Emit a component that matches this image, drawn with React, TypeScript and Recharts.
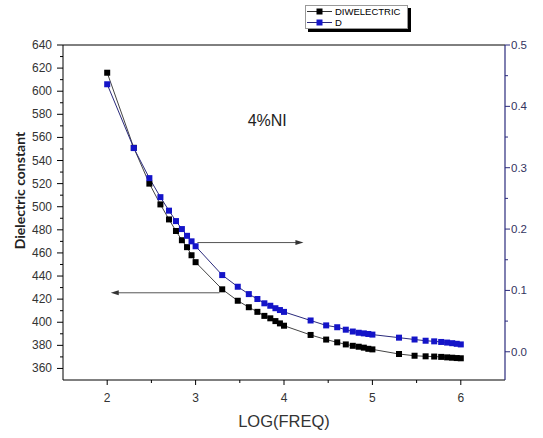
import React from 'react';
import { LineChart, Line, XAxis, YAxis, ReferenceLine, ReferenceDot, Legend, Label } from 'recharts';

const logFreq = [2, 2.301, 2.477, 2.602, 2.699, 2.778, 2.845, 2.903, 2.954, 3, 3.301, 3.477, 3.602, 3.699, 3.778, 3.845, 3.903, 3.954, 4, 4.301, 4.477, 4.602, 4.699, 4.778, 4.845, 4.903, 4.954, 5, 5.301, 5.477, 5.602, 5.699, 5.778, 5.845, 5.903, 5.954, 6];
const dielectric = [616, 551, 520, 502, 489, 479, 471, 465, 458, 452, 428.5, 418.6, 413, 409, 405.5, 403.4, 401, 399, 397, 389, 385, 382.6, 380.8, 379.6, 378.8, 378, 377, 376.5, 372.5, 371, 370.5, 370.3, 370, 369.6, 369.3, 369, 368.8];
const lossD = [0.436, 0.332, 0.283, 0.252, 0.23, 0.213, 0.2, 0.189, 0.18, 0.172, 0.125, 0.106, 0.094, 0.086, 0.079, 0.075, 0.071, 0.068, 0.065, 0.051, 0.043, 0.04, 0.036, 0.033, 0.031, 0.03, 0.029, 0.028, 0.023, 0.02, 0.018, 0.017, 0.016, 0.015, 0.014, 0.013, 0.012];

const xTicks = [2, 2.5, 3, 3.5, 4, 4.5, 5, 5.5, 6];
const leftTicks = [360, 370, 380, 390, 400, 410, 420, 430, 440, 450, 460, 470, 480, 490, 500, 510, 520, 530, 540, 550, 560, 570, 580, 590, 600, 610, 620, 630, 640];
const rightTicks = [0, 0.05, 0.1, 0.15, 0.2, 0.25, 0.3, 0.35, 0.4, 0.45, 0.5];
const seriesNames = ['DIWELECTRIC', 'D'];
const annotationText = '4%NI';
const xTitle = 'LOG(FREQ)';
const yTitle = 'Dielectric constant';
const rightArrow = [{ x: 3.02, y: 0.178 }, { x: 4.22, y: 0.178 }];
const leftArrow = [{ x: 3.27, y: 425.5 }, { x: 2.04, y: 425.5 }];

const data = logFreq.map((f, i) => ({ f, eps: dielectric[i], d: lossD[i] }));

const FONT = '"Liberation Sans", Arial, sans-serif';
const BLACK = '#000000';
const BLUE = '#1414c8';
const NAVY = '#2a2a7c';

const isMajor = (v: number, step: number) => Math.abs(v / step - Math.round(v / step)) < 1e-6;

const XTick = (props: any) => {
  const { x, y, payload } = props;
  const v = payload.value;
  const major = isMajor(v, 1);
  return (
    <g>
      <line x1={x} x2={x} y1={y} y2={y + (major ? 5 : 3)} stroke="#000" strokeWidth={1} />
      {major && (
        <text x={x} y={y + 22} textAnchor="middle" fontSize={12} fontFamily={FONT} fill="#333">
          {v}
        </text>
      )}
    </g>
  );
};

const LeftTick = (props: any) => {
  const { x, y, payload } = props;
  const v = payload.value;
  const major = isMajor(v, 20);
  return (
    <g>
      <line x1={x - (major ? 6 : 3)} x2={x} y1={y} y2={y} stroke="#000" strokeWidth={1} />
      {major && (
        <text x={x - 11} y={y + 4} textAnchor="end" fontSize={12} fontFamily={FONT} fill="#333">
          {v}
        </text>
      )}
    </g>
  );
};

const RightTick = (props: any) => {
  const { x, y, payload } = props;
  const v = payload.value;
  const major = isMajor(v, 0.1);
  return (
    <g>
      <line x1={x} x2={x + (major ? 5 : 3)} y1={y} y2={y} stroke={NAVY} strokeWidth={1} />
      {major && (
        <text x={x + 6} y={y + 4} textAnchor="start" fontSize={11.5} fontFamily={FONT} fill="#33335e">
          {v.toFixed(1)}
        </text>
      )}
    </g>
  );
};

const squareDot = (color: string) => (props: any) => {
  const { cx, cy, index } = props;
  if (cx == null || cy == null) return <g key={index} />;
  return <rect key={index} x={cx - 3} y={cy - 3} width={6} height={6} fill={color} />;
};

const arrowShape = (props: any) => {
  const { x1, y1, x2, y2 } = props;
  const dir = x2 > x1 ? 1 : -1;
  return (
    <g>
      <line x1={x1} y1={y1} x2={x2 - dir * 6} y2={y2} stroke="#555" strokeWidth={1} />
      <polygon points={`${x2},${y2} ${x2 - dir * 8},${y2 - 2.5} ${x2 - dir * 8},${y2 + 2.5}`} fill="#333" />
    </g>
  );
};

const LegendBox = () => (
  <div style={{ position: 'relative', width: 103, height: 24, background: '#fff', border: '1px solid #999', boxShadow: '3px 3px 0 #000', boxSizing: 'border-box' }}>
    <svg width={101} height={26} style={{ position: 'absolute', left: 0, top: 0, overflow: 'visible' }}>
      {[BLACK, BLUE].map((c, i) => (
        <g key={i}>
          <line x1={1} x2={26} y1={5.5 + i * 11} y2={5.5 + i * 11} stroke={i === 0 ? '#333' : NAVY} strokeWidth={1} />
          <rect x={10.5} y={2.5 + i * 11} width={6} height={6} fill={c} />
          <text x={29} y={9 + i * 11} fontSize={9.5} fontFamily={FONT} fill="#000">
            {seriesNames[i]}
          </text>
        </g>
      ))}
    </svg>
  </div>
);

export default function App() {
  return (
    <div style={{ position: 'absolute', left: 0, top: 0, width: 543, height: 438, background: '#fff' }}>
      <LineChart width={543} height={438} data={data} margin={{ top: 45, right: 0, bottom: 0, left: 0 }}>
        <XAxis
          xAxisId="x"
          dataKey="f"
          type="number"
          domain={[1.5, 6.5]}
          ticks={xTicks}
          interval={0}
          height={58}
          tickSize={0}
          tickMargin={0}
          tickLine={false}
          axisLine={{ stroke: '#000', strokeWidth: 1 }}
          tick={<XTick />}
        >
          <Label
            content={(p: any) => {
              const vb = p.viewBox || {};
              return (
                <text x={vb.x + vb.width / 2} y={vb.y + 47} textAnchor="middle" fontSize={16.5} fontFamily={FONT} fill="#333">
                  {xTitle}
                </text>
              );
            }}
          />
        </XAxis>
        <YAxis
          yAxisId="left"
          type="number"
          domain={[350, 640]}
          ticks={leftTicks}
          interval={0}
          width={63}
          tickSize={0}
          tickMargin={0}
          tickLine={false}
          axisLine={{ stroke: '#000', strokeWidth: 1 }}
          tick={<LeftTick />}
        >
          <Label
            content={(p: any) => {
              const vb = p.viewBox || {};
              const cx = vb.x + 19;
              const cy = vb.y + vb.height / 2 - 22;
              return (
                <text x={cx} y={cy} transform={`rotate(-90 ${cx} ${cy})`} textAnchor="middle" dominantBaseline="central" fontSize={14} fontWeight="bold" fontFamily='Lato, "Liberation Sans", sans-serif' fill="#222">
                  {yTitle}
                </text>
              );
            }}
          />
        </YAxis>
        <YAxis
          yAxisId="right"
          orientation="right"
          type="number"
          domain={[-0.046, 0.5]}
          ticks={rightTicks}
          interval={0}
          width={38}
          tickSize={0}
          tickMargin={0}
          tickLine={false}
          allowDataOverflow
          axisLine={{ stroke: NAVY, strokeWidth: 1.2 }}
          tick={<RightTick />}
        />
        <ReferenceLine xAxisId="x" yAxisId="left" y={640} stroke="#000" strokeWidth={1} />
        <ReferenceLine xAxisId="x" yAxisId="right" segment={rightArrow} shape={arrowShape} />
        <ReferenceLine xAxisId="x" yAxisId="left" segment={leftArrow} shape={arrowShape} />
        <ReferenceDot
          xAxisId="x"
          yAxisId="left"
          x={3.81}
          y={575}
          r={1}
          fill="none"
          stroke="none"
          label={{ value: annotationText, position: 'center', fontSize: 16, fontFamily: FONT, fill: '#222' }}
        />
        <Line
          xAxisId="x"
          yAxisId="left"
          dataKey="eps"
          name={seriesNames[0]}
          stroke="#444"
          strokeWidth={1}
          dot={squareDot(BLACK)}
          activeDot={false}
          isAnimationActive={false}
        />
        <Line
          xAxisId="x"
          yAxisId="right"
          dataKey="d"
          name={seriesNames[1]}
          stroke={NAVY}
          strokeWidth={1}
          dot={squareDot(BLUE)}
          activeDot={false}
          isAnimationActive={false}
        />
        <Legend
          layout="vertical"
          align="center"
          verticalAlign="middle"
          content={() => <LegendBox />}
          wrapperStyle={{ position: 'absolute', left: 305, top: 5, width: 106, height: 30 }}
        />
      </LineChart>
    </div>
  );
}
